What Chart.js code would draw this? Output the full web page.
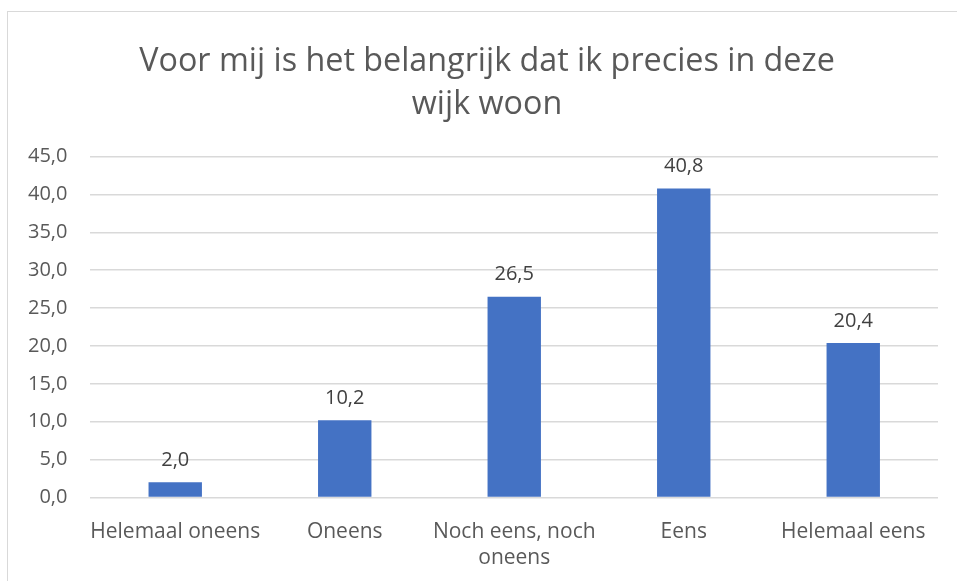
<!DOCTYPE html>
<html>
<head>
<meta charset="utf-8">
<script src="https://cdn.jsdelivr.net/npm/chart.js@4.4.0/dist/chart.umd.min.js"></script>
<style>
  html, body { margin: 0; padding: 0; background: #fff; }
  #wrap { position: relative; width: 957px; height: 581px; }
  #frame { position: absolute; left: 7px; top: 11px; width: 980px; height: 600px; border: 1px solid #d9d9d9; box-sizing: border-box; }
  canvas { position: absolute; left: 0; top: 0; }
</style>
</head>
<body>
<div id="wrap">
  <div id="frame"></div>
  <canvas id="grafiek" width="957" height="581"></canvas>
</div>
<script>
// data
const categories = ["Helemaal oneens", "Oneens", ["Noch eens, noch", "oneens"], "Eens", "Helemaal eens"];
const percentages = [2.0, 10.2, 26.5, 40.8, 20.4];
const titleLines = ["Voor mij is het belangrijk dat ik precies in deze", "wijk woon"];
const yMin = 0;
const yMax = 45;
const yStep = 5;

const FONT = "'Open Sans', Lato, sans-serif";

function komma(v) {
  return Number(v).toFixed(1).replace(".", ",");
}

// labels boven de staven
const waardeLabels = {
  id: "waardeLabels",
  afterDatasetsDraw(chart) {
    const ctx = chart.ctx;
    const meta = chart.getDatasetMeta(0);
    ctx.save();
    ctx.font = "20px " + FONT;
    ctx.fillStyle = "#404040";
    ctx.textAlign = "center";
    ctx.textBaseline = "bottom";
    meta.data.forEach((bar, i) => {
      ctx.fillText(komma(percentages[i]), bar.x, bar.y - 12);
    });
    ctx.restore();
  }
};

// titel iets naar rechts, zoals in Excel
const titelVerschuiving = {
  id: "titelVerschuiving",
  afterLayout(chart) {
    if (chart.titleBlock) {
      chart.titleBlock.left += 31;
    }
  }
};

const ctx = document.getElementById("grafiek").getContext("2d");
new Chart(ctx, {
  type: "bar",
  data: {
    labels: categories,
    datasets: [
      {
        data: percentages,
        backgroundColor: "#4472c4",
        borderWidth: 0,
        barPercentage: 0.63,
        categoryPercentage: 0.5
      }
    ]
  },
  options: {
    responsive: false,
    animation: false,
    layout: { padding: { left: 5, right: 19, top: 40, bottom: -3 } },
    plugins: {
      legend: { display: false },
      tooltip: { enabled: false },
      title: {
        display: true,
        text: titleLines,
        color: "#595959",
        font: { family: FONT, size: 32.3, weight: "normal", lineHeight: 1.34 },
        padding: { top: 0, bottom: 30 }
      }
    },
    scales: {
      x: {
        grid: { display: false },
        border: { display: false },
        ticks: {
          color: "#595959",
          font: { family: FONT, size: 21, lineHeight: 1.25 },
          maxRotation: 0,
          autoSkip: false,
          padding: 13
        }
      },
      y: {
        min: yMin,
        max: yMax,
        grid: { color: "#d9d9d9", lineWidth: 1.5, drawTicks: false },
        border: { display: false },
        ticks: {
          stepSize: yStep,
          color: "#595959",
          font: { family: FONT, size: 20 },
          padding: 23,
          callback: (v) => komma(v)
        }
      }
    }
  },
  plugins: [waardeLabels, titelVerschuiving]
});
</script>
</body>
</html>
